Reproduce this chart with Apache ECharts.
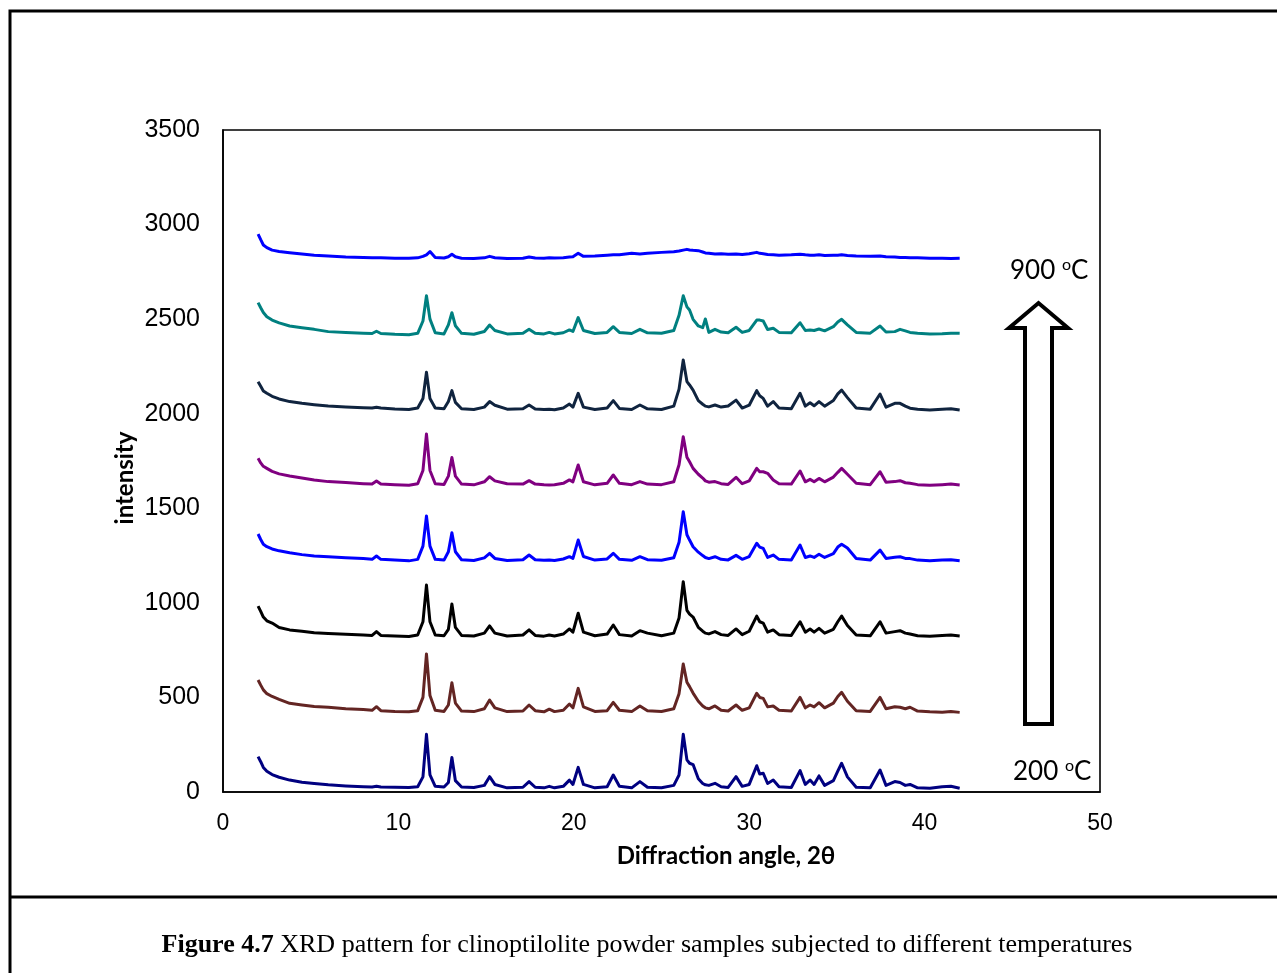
<!DOCTYPE html>
<html>
<head>
<meta charset="utf-8">
<script src="https://cdn.jsdelivr.net/npm/echarts@6/dist/echarts.min.js"></script>
<style>
html,body{margin:0;padding:0;background:#fff;}
#chart{width:1277px;height:973px;}
</style>
</head>
<body>
<div id="chart"></div>
<script>
// 2θ positions (degrees) at which intensities were read
var twoTheta = [2.0,2.15,2.3,2.5,2.8,3.2,3.8,4.5,5.2,6.0,7.0,8.0,8.5,8.75,9.0,9.8,10.6,11.1,11.4,11.6,11.8,12.1,12.6,12.85,13.05,13.25,13.6,14.3,14.9,15.2,15.5,16.2,17.1,17.45,17.8,18.3,18.6,18.9,19.4,19.75,19.95,20.25,20.55,21.2,21.9,22.25,22.6,23.3,23.77,24.2,25.0,25.7,26.0,26.24,26.45,26.6,26.8,27.1,27.35,27.5,27.7,28.05,28.4,28.8,29.25,29.6,30.0,30.43,30.6,30.8,31.05,31.37,31.7,32.4,32.9,33.2,33.47,33.7,33.98,34.3,34.8,35.05,35.27,35.6,36.1,36.9,37.46,37.8,38.3,38.6,38.9,39.17,39.6,40.3,41.0,41.5,42.0];

var t200 = [187,160,130,110,92,78,63,52,45,38,32,28,27,30,26,25,24,28,80,305,90,30,26,50,183,60,26,24,35,81,40,22,25,55,25,22,30,22,30,63,40,130,40,22,28,90,30,22,55,25,22,35,90,305,170,152,145,70,45,38,35,46,28,24,81,30,40,139,95,99,45,63,28,24,113,40,63,40,85,35,60,110,152,80,25,22,116,35,55,50,35,40,22,20,28,30,20];
var t300 = [592,565,540,520,505,490,469,460,452,448,440,436,432,451,430,426,424,430,500,730,510,432,426,460,578,470,428,425,440,486,445,425,428,460,430,424,438,425,432,465,445,548,450,426,430,474,432,425,455,430,426,440,520,677,580,557,523,480,455,445,440,455,432,428,460,432,445,522,500,495,450,455,432,428,500,445,460,450,472,445,470,505,527,480,430,426,500,440,451,448,440,448,428,424,422,425,421];
var t400 = [983,955,925,905,893,870,857,850,842,838,834,830,828,848,828,825,822,830,900,1094,900,830,826,860,994,870,828,825,840,878,840,825,830,857,828,824,830,825,835,862,845,945,845,826,835,883,832,825,853,840,826,840,920,1112,960,940,925,870,850,840,836,848,832,828,862,832,850,930,900,893,845,857,832,828,900,845,862,845,865,840,860,900,930,880,830,826,900,840,848,853,840,835,826,824,828,830,825];
var t500 = [1364,1335,1310,1297,1285,1275,1265,1255,1248,1244,1238,1234,1230,1248,1230,1226,1222,1230,1300,1459,1300,1230,1226,1270,1371,1270,1228,1224,1238,1262,1235,1224,1228,1253,1228,1225,1227,1224,1232,1244,1235,1332,1245,1226,1232,1262,1230,1225,1244,1228,1225,1238,1320,1482,1360,1332,1297,1268,1250,1240,1234,1244,1230,1227,1251,1230,1245,1315,1295,1288,1240,1253,1230,1227,1306,1240,1248,1240,1257,1240,1260,1295,1310,1290,1235,1226,1279,1235,1241,1244,1235,1234,1226,1222,1226,1228,1223];
var t600 = [1764,1740,1722,1711,1695,1682,1671,1660,1650,1641,1636,1630,1628,1644,1628,1625,1622,1630,1700,1893,1700,1630,1626,1670,1768,1670,1628,1624,1640,1667,1645,1630,1628,1646,1628,1624,1623,1624,1632,1650,1640,1729,1640,1624,1632,1676,1632,1625,1641,1628,1625,1640,1730,1878,1770,1746,1711,1680,1660,1645,1638,1641,1630,1626,1664,1630,1645,1711,1693,1693,1685,1650,1630,1628,1697,1640,1653,1640,1658,1640,1665,1690,1711,1680,1632,1625,1693,1638,1641,1646,1635,1632,1625,1622,1625,1628,1623];
var t700 = [2169,2145,2120,2108,2092,2078,2064,2055,2048,2041,2036,2032,2030,2034,2030,2025,2022,2030,2080,2219,2080,2030,2026,2065,2122,2060,2026,2022,2035,2064,2045,2024,2026,2046,2025,2022,2024,2021,2030,2051,2035,2108,2035,2022,2030,2069,2028,2022,2046,2026,2022,2040,2130,2284,2170,2152,2125,2069,2050,2040,2036,2046,2035,2041,2072,2030,2045,2122,2095,2081,2040,2064,2030,2026,2108,2040,2058,2042,2064,2040,2070,2105,2125,2085,2030,2024,2104,2035,2055,2055,2040,2029,2024,2020,2024,2026,2020];
var t800 = [2587,2560,2535,2513,2495,2480,2464,2455,2446,2434,2430,2426,2424,2436,2424,2420,2418,2425,2490,2624,2500,2428,2422,2470,2534,2465,2425,2420,2435,2469,2440,2422,2425,2446,2425,2422,2430,2422,2428,2443,2435,2508,2440,2424,2430,2460,2430,2424,2446,2428,2425,2440,2520,2624,2565,2548,2499,2464,2455,2501,2430,2446,2432,2428,2457,2430,2440,2495,2495,2490,2445,2452,2430,2428,2481,2440,2443,2440,2448,2438,2460,2485,2499,2470,2430,2426,2464,2432,2434,2446,2438,2430,2426,2422,2423,2426,2425];
var t900 = [2950,2920,2892,2878,2865,2858,2851,2844,2838,2834,2828,2826,2825,2824,2824,2822,2822,2824,2832,2840,2857,2826,2823,2830,2843,2830,2822,2821,2824,2832,2825,2821,2822,2829,2823,2822,2824,2823,2825,2828,2830,2848,2832,2834,2838,2840,2840,2848,2845,2848,2853,2856,2860,2865,2869,2866,2864,2862,2855,2850,2848,2845,2846,2843,2845,2842,2846,2853,2848,2846,2842,2840,2838,2840,2843,2840,2838,2838,2840,2836,2838,2838,2840,2837,2834,2832,2834,2830,2828,2826,2826,2825,2824,2822,2822,2821,2822];

var seriesNames = ['200 °C','300 °C','400 °C','500 °C','600 °C','700 °C','800 °C','900 °C'];
var seriesValues = [t200,t300,t400,t500,t600,t700,t800,t900];
var seriesColors = ['#000080','#632523','#000000','#0000ff','#800080','#10243f','#008080','#0000ff'];

var xTicks = [0,10,20,30,40,50];
var yTicks = [0,500,1000,1500,2000,2500,3000,3500];

var chart = echarts.init(document.getElementById('chart'), null, {renderer:'canvas'});

var series = seriesValues.map(function(vals, i){
  return {
    name: seriesNames[i],
    type: 'line',
    showSymbol: false,
    symbol: 'none',
    smooth: false,
    data: twoTheta.map(function(x, k){ return [x, vals[k]]; }),
    lineStyle: {color: seriesColors[i], width: 3, join:'round'},
    itemStyle: {color: seriesColors[i]},
    z: 3
  };
});

var option = {
  backgroundColor: '#fff',
  animation: false,
  grid: {left:223, top:130, width:877, height:662, show:true, borderColor:'#000', borderWidth:1.6, backgroundColor:'transparent'},
  xAxis: {
    type:'value', min:xTicks[0], max:xTicks[xTicks.length-1], interval:10,
    axisLine:{show:true, lineStyle:{color:'#000', width:1.6}},
    axisTick:{show:false}, splitLine:{show:false},
    axisLabel:{color:'#000', fontFamily:'Liberation Sans', fontSize:23, margin:20, formatter:function(v){return String(v);}}
  },
  yAxis: {
    type:'value', min:yTicks[0], max:yTicks[yTicks.length-1], interval:500,
    axisLine:{show:true, lineStyle:{color:'#000', width:1.6}},
    axisTick:{show:false}, splitLine:{show:false},
    axisLabel:{color:'#000', fontFamily:'Liberation Sans', fontSize:25, margin:23, formatter:function(v){return String(v);}}
  },
  series: series,
  graphic: [
    // outer frame
    {type:'polyline', shape:{points:[[1277,11],[10,11],[10,973]]}, style:{stroke:'#000', lineWidth:3, fill:null}, z:10},
    {type:'line', shape:{x1:10, y1:897, x2:1277, y2:897}, style:{stroke:'#000', lineWidth:3}, z:10},
    // hollow arrow
    {type:'polygon', shape:{points:[[1025,724],[1052,724],[1052,328],[1068,328],[1038.5,303],[1009,328],[1025,328]]},
      style:{fill:'#fff', stroke:'#000', lineWidth:4, lineJoin:'miter'}, z:10},
    // axis names
    {type:'text', x:726, y:856, style:{text:'Diffraction angle, 2θ', font:'bold 24px Lato', fill:'#000', align:'center', verticalAlign:'middle'}, z:10},
    {type:'text', x:125, y:478, rotation:Math.PI/2, style:{text:'intensity', font:'bold 24px Lato', fill:'#000', align:'center', verticalAlign:'middle'}, z:10},
    // temperature labels
    {type:'text', left:1010, top:257, style:{text:'{n|900 }{s|o}{n|C}', rich:{n:{fontFamily:'Lato', fontSize:26, fill:'#000', verticalAlign:'bottom'}, s:{fontFamily:'Lato', fontSize:16, fill:'#000', verticalAlign:'top', padding:[0,0,11,0]}}}, z:10},
    {type:'text', left:1013, top:758, style:{text:'{n|200 }{s|o}{n|C}', rich:{n:{fontFamily:'Lato', fontSize:26, fill:'#000', verticalAlign:'bottom'}, s:{fontFamily:'Lato', fontSize:16, fill:'#000', verticalAlign:'top', padding:[0,0,11,0]}}}, z:10},
    // caption
    {type:'text', x:647, y:945, style:{text:'{b|Figure 4.7 }{r|XRD pattern for clinoptilolite powder samples subjected to different temperatures}', align:'center', verticalAlign:'middle',
      rich:{b:{fontFamily:'Liberation Serif', fontWeight:'bold', fontSize:26, fill:'#000'}, r:{fontFamily:'Liberation Serif', fontSize:26, fill:'#000'}}}, z:10}
  ]
};
chart.setOption(option);
</script>
</body>
</html>
